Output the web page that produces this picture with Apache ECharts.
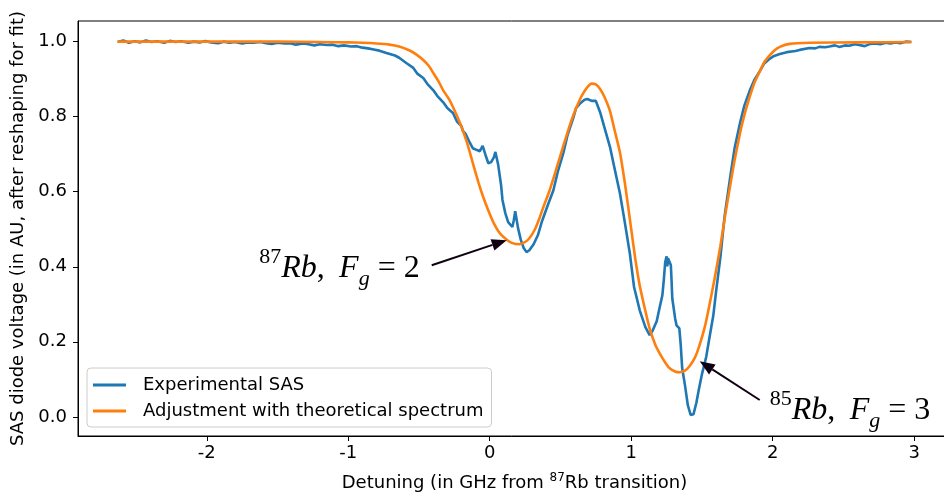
<!DOCTYPE html>
<html>
<head>
<meta charset="utf-8">
<script src="https://cdn.jsdelivr.net/npm/echarts@6/dist/echarts.min.js"></script>
<style>
  html, body { margin: 0; padding: 0; background: #fff; }
  #chart { width: 944px; height: 492px; }
</style>
</head>
<body>
<div id="chart"></div>
<script>
// experimental SAS trace
var sasDetuning = [
  -2.63,-2.59,-2.55,-2.51,-2.47,-2.43,-2.39,-2.35,-2.30,-2.26,-2.22,-2.18,-2.13,-2.09,-2.05,-2.01,
  -1.97,-1.92,-1.88,-1.84,-1.80,-1.75,-1.71,-1.67,-1.62,-1.58,-1.54,-1.50,-1.45,-1.41,-1.37,-1.32,
  -1.28,-1.24,-1.20,-1.15,-1.11,-1.07,-1.03,-0.98,-0.94,-0.90,-0.86,-0.82,-0.78,-0.73,-0.67,-0.64,
  -0.59,-0.54,-0.51,-0.47,-0.44,-0.40,-0.37,-0.33,-0.30,-0.26,-0.23,-0.20,-0.19,-0.17,-0.14,-0.12,
  -0.09,-0.07,-0.05,-0.03,-0.01,0.01,0.03,0.04,0.06,0.08,0.09,0.11,0.13,0.16,0.17,0.18,
  0.20,0.22,0.24,0.26,0.28,0.31,0.34,0.37,0.41,0.45,0.48,0.52,0.55,0.59,0.61,0.64,
  0.67,0.69,0.72,0.75,0.78,0.81,0.85,0.88,0.92,0.95,0.99,1.02,1.06,1.10,1.13,1.15,
  1.18,1.20,1.22,1.23,1.24,1.25,1.255,1.26,1.27,1.28,1.285,1.29,1.31,1.32,1.34,1.35,
  1.36,1.38,1.40,1.42,1.44,1.46,1.48,1.50,1.53,1.55,1.58,1.60,1.63,1.66,1.70,1.73,
  1.77,1.80,1.84,1.87,1.91,1.94,1.98,2.01,2.05,2.10,2.16,2.19,2.26,2.30,2.33,2.37,
  2.40,2.44,2.47,2.51,2.54,2.58,2.61,2.65,2.69,2.72,2.76,2.80,2.83,2.87,2.90,2.94,2.98
];
var sasVoltage = [
  0.999,1.003,0.997,1.001,0.998,1.003,0.999,1.001,0.997,1.002,0.999,1.001,0.997,1.000,0.998,1.002,
  0.998,0.996,1.000,0.997,0.999,0.995,0.998,0.997,0.999,0.996,0.994,0.997,0.995,0.996,0.992,0.995,
  0.993,0.990,0.993,0.991,0.992,0.988,0.990,0.987,0.988,0.984,0.982,0.979,0.976,0.970,0.963,0.957,
  0.943,0.930,0.914,0.903,0.887,0.871,0.855,0.839,0.823,0.810,0.786,0.775,0.762,0.754,0.730,0.716,
  0.711,0.708,0.722,0.698,0.676,0.679,0.692,0.706,0.671,0.618,0.578,0.543,0.519,0.506,0.524,0.548,
  0.503,0.471,0.450,0.439,0.444,0.460,0.484,0.522,0.564,0.604,0.652,0.703,0.751,0.796,0.823,0.836,
  0.845,0.847,0.842,0.842,0.812,0.772,0.719,0.666,0.596,0.529,0.436,0.346,0.284,0.239,0.218,0.229,
  0.255,0.290,0.324,0.364,0.412,0.428,0.401,0.423,0.428,0.404,0.364,0.316,0.263,0.244,0.236,0.191,
  0.130,0.084,0.031,0.005,0.007,0.037,0.077,0.114,0.160,0.205,0.270,0.335,0.425,0.535,0.640,0.715,
  0.785,0.830,0.872,0.898,0.922,0.942,0.955,0.962,0.967,0.972,0.975,0.978,0.983,0.982,0.986,0.985,
  0.987,0.990,0.986,0.990,0.989,0.993,0.991,0.988,0.994,0.995,0.993,0.997,0.995,0.998,0.996,1.000,0.999
];

// theoretical fit
var fitDetuning = [
  -2.63,-2.0,-1.5,-1.2,-1.0,-0.90,-0.80,-0.71,-0.64,-0.57,-0.52,-0.47,-0.43,-0.40,-0.36,-0.33,
  -0.29,-0.26,-0.21,-0.16,-0.12,-0.08,-0.05,-0.01,0.03,0.07,0.12,0.16,0.21,0.25,0.28,0.32,
  0.35,0.38,0.42,0.47,0.52,0.56,0.59,0.63,0.66,0.69,0.72,0.75,0.78,0.81,0.85,0.88,
  0.92,0.96,1.00,1.03,1.06,1.10,1.13,1.17,1.20,1.24,1.27,1.31,1.34,1.38,1.41,1.45,
  1.48,1.52,1.55,1.59,1.63,1.66,1.70,1.73,1.77,1.80,1.84,1.87,1.91,1.94,1.98,2.01,
  2.05,2.12,2.26,2.60,2.98
];
var fitVoltage = [
  1.000,1.000,1.000,0.999,0.998,0.997,0.995,0.992,0.987,0.977,0.966,0.951,0.935,0.917,0.893,0.871,
  0.848,0.826,0.783,0.730,0.677,0.625,0.590,0.550,0.515,0.490,0.472,0.463,0.460,0.466,0.476,0.500,
  0.528,0.560,0.600,0.660,0.722,0.770,0.803,0.840,0.862,0.879,0.888,0.886,0.874,0.853,0.815,0.768,
  0.705,0.610,0.500,0.418,0.350,0.282,0.236,0.192,0.170,0.145,0.130,0.121,0.119,0.123,0.134,0.158,
  0.188,0.240,0.293,0.370,0.455,0.528,0.618,0.683,0.758,0.805,0.856,0.890,0.922,0.945,0.964,0.976,
  0.986,0.994,0.997,0.998,0.999
];

var xTicks = [-2, -1, 0, 1, 2, 3];
var yTicks = [0, 0.2, 0.4, 0.6, 0.8, 1.0];

// annotations: text anchor, arrow tail, arrow head (data coords)
var noteText = [
  '{sup|87}{it|Rb}{n|,\u2009 }{it|F}{sub|g}{n| = 2}',
  '{sup|85}{it|Rb}{n|,\u2009 }{it|F}{sub|g}{n| = 3}'
];
var noteAlign = ['right', 'left'];
var notePos = [[-0.495, 0.396], [1.979, 0.018]];
var noteTail = [[-0.41, 0.404], [1.908, 0.045]];
var noteHead = [[0.12, 0.471], [1.484, 0.148]];

function zip(a, b) {
  var out = [];
  for (var i = 0; i < a.length; i++) out.push([a[i], b[i]]);
  return out;
}

var chart = echarts.init(document.getElementById('chart'));
var font = 'DejaVu Sans';
var option = {
  animation: false,
  color: ['#1f77b4', '#ff7f0e'],
  // the right spine of the original figure falls just outside the picture
  grid: {left: 78, right: -7, top: 21, bottom: 56, show: true, borderColor: '#000', borderWidth: 1,
         outerBoundsMode: 'none'},
  legend: {
    left: 87, top: 368, orient: 'vertical',
    data: ['Experimental SAS', 'Adjustment with theoretical spectrum'],
    icon: 'rect', itemWidth: 33, itemHeight: 3, itemGap: 8,
    padding: [8, 8, 7, 6],
    borderColor: '#cccccc', borderWidth: 1, borderRadius: 4, backgroundColor: 'rgba(255,255,255,0.8)',
    textStyle: {fontFamily: font, fontSize: 18, lineHeight: 18, color: '#000', padding: [0, 0, 0, 12]}
  },
  xAxis: {
    type: 'value', min: -2.91, max: 3.26,
    name: 'Detuning (in GHz from {sup|87}Rb transition)',
    nameLocation: 'middle', nameGap: 36,
    nameTextStyle: {fontFamily: font, fontSize: 18, color: '#000', lineHeight: 22,
      rich: {sup: {fontFamily: font, fontSize: 12, lineHeight: 12, verticalAlign: 'top'}}},
    splitLine: {show: false},
    axisLine: {show: true, onZero: false, lineStyle: {color: '#000', width: 1}},
    axisTick: {show: true, length: 5, lineStyle: {color: '#000'}, customValues: xTicks},
    axisLabel: {fontFamily: font, fontSize: 18, color: '#000', margin: 8, customValues: xTicks}
  },
  yAxis: {
    type: 'value', min: -0.051, max: 1.055,
    name: 'SAS diode voltage (in AU, after reshaping for fit)',
    nameLocation: 'middle', nameGap: 50,
    nameTextStyle: {fontFamily: font, fontSize: 18, color: '#000'},
    splitLine: {show: false},
    axisLine: {show: true, onZero: false, lineStyle: {color: '#000', width: 1}},
    axisTick: {show: true, length: 5, lineStyle: {color: '#000'}, customValues: yTicks},
    axisLabel: {fontFamily: font, fontSize: 18, color: '#000', margin: 11, customValues: yTicks,
      formatter: function (v) { return v.toFixed(1); }}
  },
  series: [
    {name: 'Experimental SAS', type: 'line', data: zip(sasDetuning, sasVoltage),
     symbol: 'none', sampling: null, lineStyle: {width: 2.6}, z: 2},
    {name: 'Adjustment with theoretical spectrum', type: 'line', data: zip(fitDetuning, fitVoltage),
     symbol: 'none', smooth: 0.2, lineStyle: {width: 2.6}, z: 3}
  ]
};
chart.setOption(option);

function drawNotes() {
  var els = [];
  var ink = '#110011';
  var mathRich = {
    it: {fontFamily: 'Liberation Serif', fontStyle: 'italic', fontSize: 32, lineHeight: 44, verticalAlign: 'middle'},
    n: {fontFamily: 'Liberation Serif', fontSize: 32, lineHeight: 44, verticalAlign: 'middle'},
    sup: {fontFamily: 'Liberation Serif', fontSize: 22, lineHeight: 22, verticalAlign: 'top'},
    sub: {fontFamily: 'Liberation Serif', fontStyle: 'italic', fontSize: 22, lineHeight: 30, verticalAlign: 'bottom'}
  };
  for (var i = 0; i < noteText.length; i++) {
    var h = chart.convertToPixel({gridIndex: 0}, noteHead[i]);
    var t = chart.convertToPixel({gridIndex: 0}, noteTail[i]);
    var p = chart.convertToPixel({gridIndex: 0}, notePos[i]);
    var ang = Math.atan2(h[1] - t[1], h[0] - t[0]);
    var L = 15, W = 6;
    var bx = h[0] - L * Math.cos(ang), by = h[1] - L * Math.sin(ang);
    els.push({type: 'line', shape: {x1: t[0], y1: t[1], x2: bx, y2: by},
              style: {stroke: ink, lineWidth: 2}, z: 10});
    els.push({type: 'polygon', z: 10, style: {fill: ink},
              shape: {points: [h, [bx - W * Math.sin(ang), by + W * Math.cos(ang)],
                               [bx + W * Math.sin(ang), by - W * Math.cos(ang)]]}});
    els.push({type: 'text', x: p[0], y: p[1], z: 10,
              style: {text: noteText[i], rich: mathRich, fill: '#000', align: noteAlign[i], verticalAlign: 'middle'}});
  }
  chart.setOption({graphic: els});
}
drawNotes();
</script>
</body>
</html>
